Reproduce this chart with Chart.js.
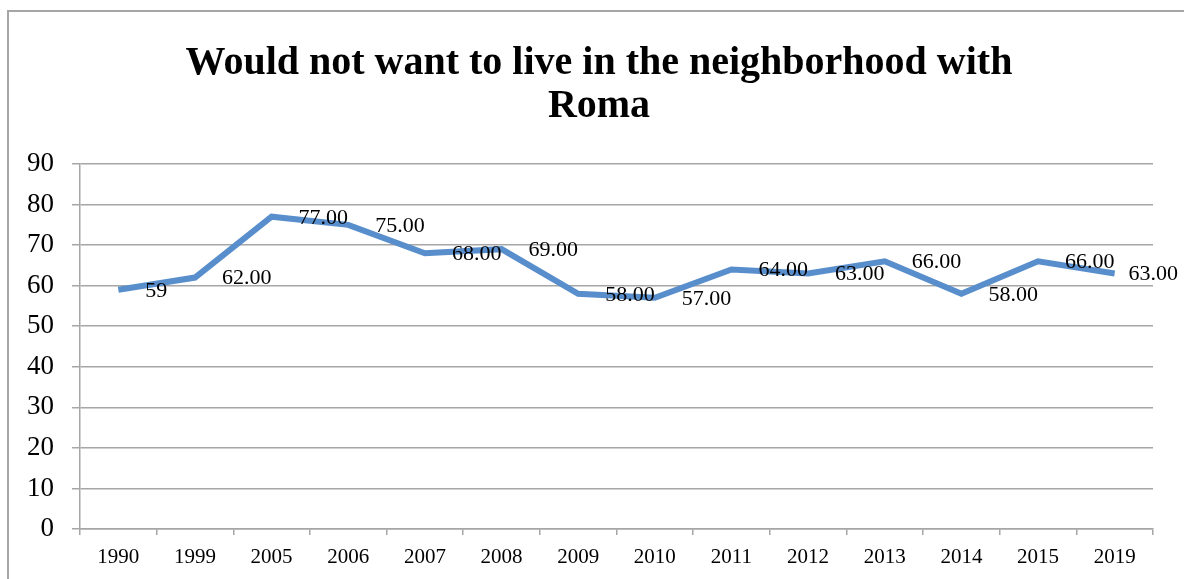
<!DOCTYPE html>
<html>
<head>
<meta charset="utf-8">
<script src="https://cdn.jsdelivr.net/npm/chart.js@4"></script>
<style>
    body { margin: 0; background: #fff; overflow: hidden; }
    #frame {
        position: absolute; left: 7px; top: 10px;
        width: 2000px; height: 2000px;
        border-left: 2px solid #a6a6a6; border-top: 2px solid #a6a6a6;
    }
    #chart { position: absolute; left: 0; top: 0; }
</style>
</head>
<body>
<div id="frame"></div>
<canvas id="chart" width="1198" height="579"></canvas>
<script>
const years = ['1990', '1999', '2005', '2006', '2007', '2008', '2009',
    '2010', '2011', '2012', '2013', '2014', '2015', '2019'];
const share = [59, 62, 77, 75, 68, 69, 58, 57, 64, 63, 66, 58, 66, 63];
const titleLines = ['Would not want to live in the neighborhood with', 'Roma'];

const serif = "'Liberation Serif', 'Times New Roman', serif";
const gridGray = '#a6a6a6';

// value labels to the right of each point, like Excel's "right" position
const pointLabels = {
    id: 'pointLabels',
    afterLayout(chart) {
        // the title is centred a bit right of the canvas middle
        if (chart.titleBlock) chart.titleBlock.left = 45;
    },
    afterDatasetsDraw(chart) {
        const ctx = chart.ctx;
        const meta = chart.getDatasetMeta(0);
        ctx.save();
        ctx.font = '22px ' + serif;
        ctx.fillStyle = '#000';
        ctx.textAlign = 'left';
        ctx.textBaseline = 'middle';
        meta.data.forEach((pt, i) => {
            const v = share[i];
            const text = i === 0 ? String(v) : v.toFixed(2);
            let x = pt.x + 27;
            const w = ctx.measureText(text).width;
            if (x + w > 1178) x = 1178 - w; // keep inside the frame
            ctx.fillText(text, x, pt.y + 1);
        });
        ctx.restore();
    }
};

new Chart(document.getElementById('chart'), {
    type: 'line',
    data: {
        labels: years,
        datasets: [{
            data: share,
            borderColor: 'rgb(88, 142, 203)',
            borderWidth: 6,
            borderJoinStyle: 'miter',
            pointRadius: 0,
            tension: 0,
            fill: false,
        }],
    },
    options: {
        responsive: false,
        animation: false,
        layout: { padding: { left: 0, right: 45, top: 0, bottom: 0 } },
        plugins: {
            legend: { display: false },
            tooltip: { enabled: false },
            title: {
                display: true,
                text: titleLines,
                color: '#000',
                font: { family: serif, size: 40, weight: 'bold', lineHeight: 43 / 40 },
                padding: { top: 42.5, bottom: 35.5 },
            },
        },
        scales: {
            x: {
                offset: true,
                grid: {
                    offset: true,
                    drawOnChartArea: false,
                    color: gridGray,
                    lineWidth: 1.5,
                    tickLength: 6,
                },
                border: { color: gridGray, width: 1.5 },
                ticks: {
                    color: '#000',
                    font: { family: serif, size: 21 },
                    padding: 10,
                    maxRotation: 0,
                },
                afterFit(scale) { scale.height = 50; },
            },
            y: {
                min: 0,
                max: 90,
                ticks: {
                    stepSize: 10,
                    color: '#000',
                    font: { family: serif, size: 27 },
                    padding: 18,
                },
                grid: { color: gridGray, lineWidth: 1.5, tickLength: 8 },
                border: { color: gridGray, width: 1.5 },
                afterFit(scale) { scale.width = 80; },
            },
        },
    },
    plugins: [pointLabels],
});
</script>
</body>
</html>
